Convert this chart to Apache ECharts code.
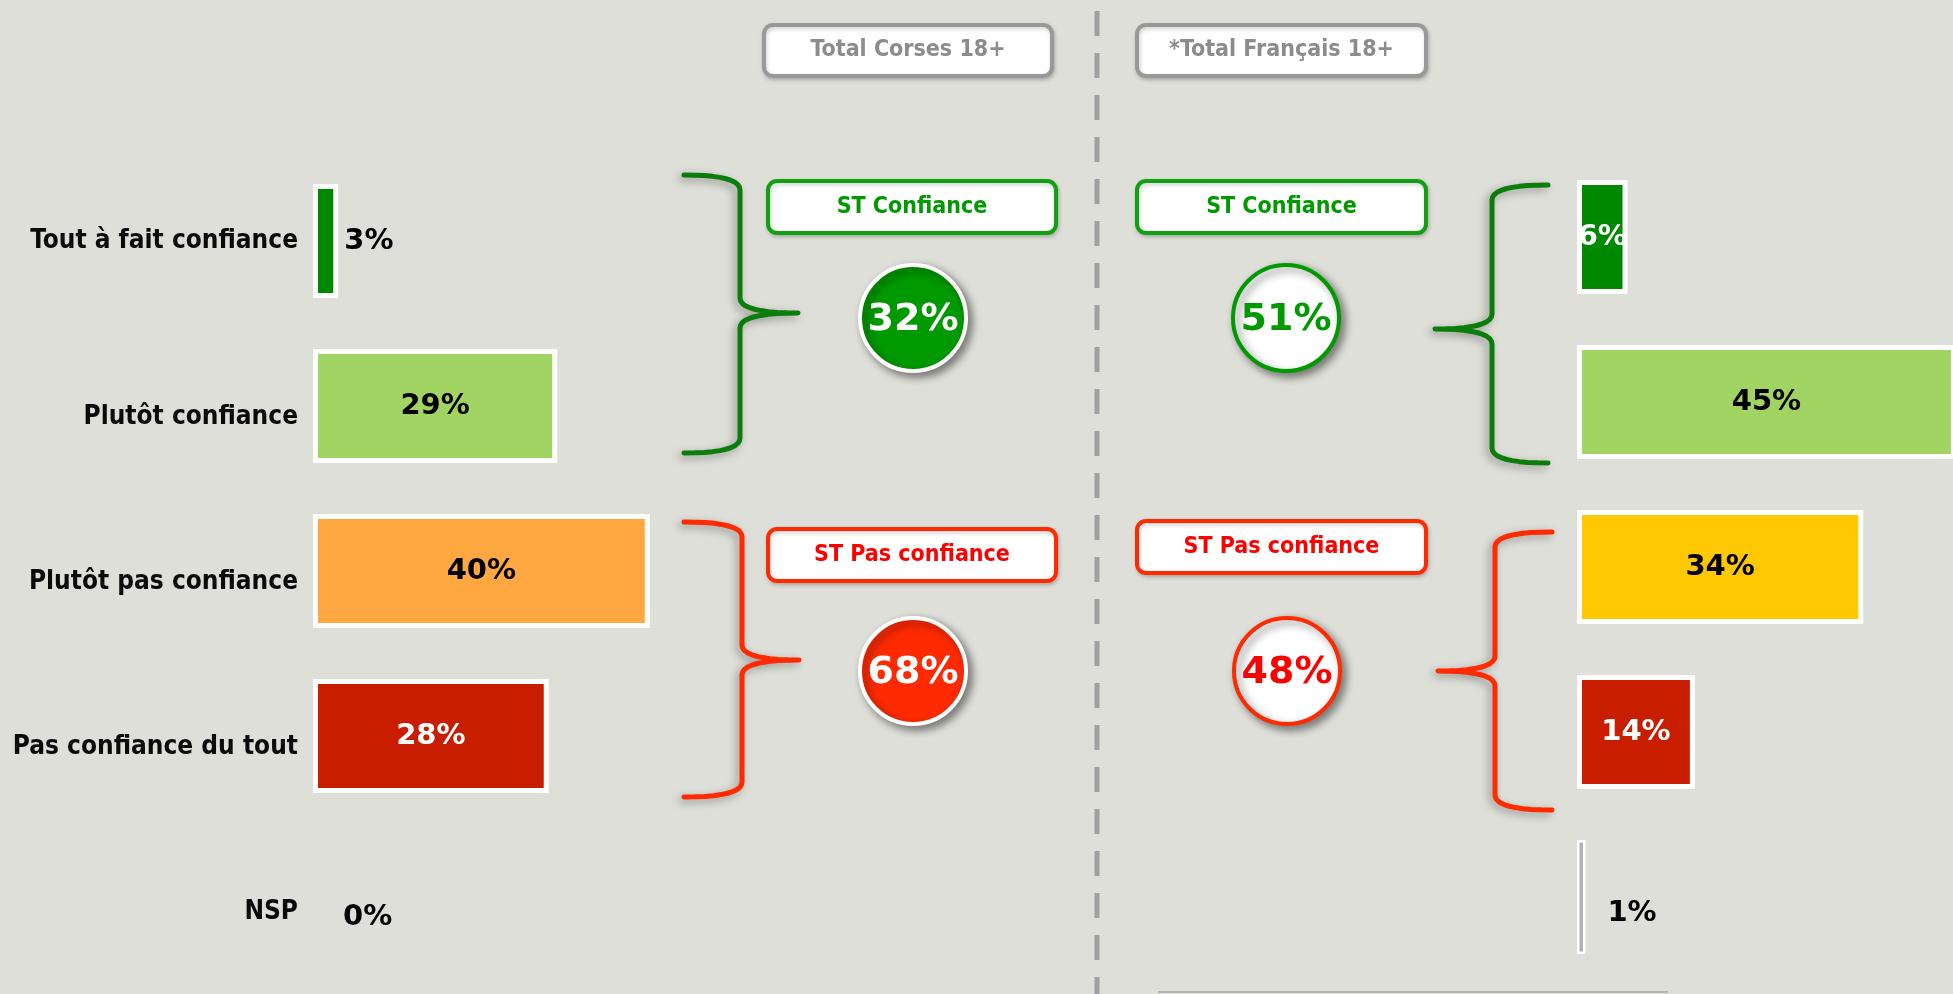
<!DOCTYPE html>
<html>
<head>
<meta charset="utf-8">
<script src="https://cdn.jsdelivr.net/npm/echarts@6/dist/echarts.min.js"></script>
<style>
  html, body { margin: 0; padding: 0; background: #dfdfd9; }
  #chart { width: 1953px; height: 994px; }
</style>
</head>
<body>
<div id="chart"></div>
<script>
const categories = ['Tout à fait confiance', 'Plutôt confiance', 'Plutôt pas confiance', 'Pas confiance du tout', 'NSP'];
const corsesValues = [3, 29, 40, 28, 0];
const francaisValues = [6, 45, 34, 14, 1];
const panelTitles = ['Total Corses 18+', '*Total Français 18+'];
const subtotalTitles = ['ST Confiance', 'ST Pas confiance'];

const leftColors = ['#008800', '#a2d464', '#ffa842', '#c91d00', 'transparent'];
const rightColors = ['#008800', '#a2d464', '#ffc800', '#c91d00', '#b0b0b0'];
const leftLabelColors = ['#000', '#000', '#000', '#fff', '#000'];
const rightLabelColors = ['#fff', '#000', '#000', '#fff', '#000'];

const condFont = "'DejaVu Sans Condensed', 'DejaVu Sans', sans-serif";
const valFont = "'DejaVu Sans', sans-serif";
const GREEN = '#009900';
const RED = '#ff2a00';

// subtotals come from the data
const sum = (arr, a, b) => arr[a] + arr[b];
const stCorses = [sum(corsesValues, 0, 1), sum(corsesValues, 2, 3)];
const stFrancais = [sum(francaisValues, 0, 1), sum(francaisValues, 2, 3)];

const buildBars = (values, colors, labelColors, nspDistance) => values.map((v, i) => {
  const item = {
    value: v,
    itemStyle: { color: colors[i] },
    label: { color: labelColors[i] }
  };
  if (v < 5) {
    item.label.position = 'right';
    item.label.distance = i === 4 ? nspDistance : 6;
    if (i === 4) item.label.offset = [0, 16];
  }
  if (colors[i] === 'transparent') item.itemStyle.borderWidth = 0;
  else if (v < 2) item.itemStyle.borderWidth = 2.5;
  return item;
});

// sample a quadratic curve
const quad = (p0, c, p1, n) => {
  const pts = [];
  for (let k = 1; k <= n; k++) {
    const t = k / n;
    const u = 1 - t;
    pts.push([u * u * p0[0] + 2 * u * t * c[0] + t * t * p1[0], u * u * p0[1] + 2 * u * t * c[1] + t * t * p1[1]]);
  }
  return pts;
};

const bracePoints = (xa, xm, xt, y0, yt, y1) => {
  const r = 15;
  let pts = [[xa, y0]];
  pts = pts.concat(quad([xa, y0], [xm, y0], [xm, y0 + r], 10));
  pts.push([xm, yt - r]);
  pts = pts.concat(quad([xm, yt - r], [xm, yt], [xt, yt], 10));
  pts = pts.concat(quad([xt, yt], [xm, yt], [xm, yt + r], 10));
  pts.push([xm, y1 - r]);
  pts = pts.concat(quad([xm, y1 - r], [xm, y1], [xa, y1], 10));
  return pts;
};

const brace = (pts, color) => ({
  type: 'polyline',
  shape: { points: pts },
  style: {
    stroke: color, fill: null, lineWidth: 5, lineJoin: 'round', lineCap: 'round',
    shadowBlur: 8, shadowColor: 'rgba(0,0,0,0.35)', shadowOffsetX: -3, shadowOffsetY: 3
  }
});

const box = (x, y, w, h, stroke, text, textColor) => ([
  {
    type: 'rect',
    shape: { x: x, y: y, width: w, height: h, r: 9 },
    style: { fill: '#fff', stroke: stroke, lineWidth: 4, shadowBlur: 4, shadowColor: 'rgba(0,0,0,0.2)', shadowOffsetX: 1, shadowOffsetY: 2 }
  },
  {
    type: 'text',
    x: x + w / 2, y: y + h / 2,
    style: {
      text: text, fill: textColor, font: 'bold 23px ' + condFont,
      align: 'center', verticalAlign: 'middle', textAlign: 'center', textVerticalAlign: 'middle'
    }
  }
]);

const bubble = (cx, cy, fill, stroke, text, textColor) => ([
  {
    type: 'circle',
    shape: { cx: cx, cy: cy, r: 53 },
    style: { fill: fill, stroke: stroke, lineWidth: 4, shadowBlur: 8, shadowColor: 'rgba(0,0,0,0.45)', shadowOffsetX: 4, shadowOffsetY: 4 }
  },
  {
    type: 'text',
    x: cx, y: cy + 2,
    style: {
      text: text, fill: textColor, font: 'bold 38px ' + valFont,
      align: 'center', verticalAlign: 'middle', textAlign: 'center', textVerticalAlign: 'middle'
    }
  }
]);

const graphics = [
  {
    type: 'line',
    shape: { x1: 1097, y1: 11, x2: 1097, y2: 994 },
    style: { stroke: '#a0a0a0', lineWidth: 5, lineDash: [25, 17] }
  },
  {
    type: 'line',
    shape: { x1: 1158, y1: 992, x2: 1668, y2: 992 },
    style: { stroke: '#b4b4b4', lineWidth: 2 }
  },
  brace(bracePoints(684, 740, 798, 175, 313, 453), '#0a7d0a'),
  brace(bracePoints(684, 742, 799, 522, 660, 797), RED),
  brace(bracePoints(1548, 1492, 1435, 185, 329, 463), '#0a7d0a'),
  brace(bracePoints(1552, 1495, 1438, 532, 671, 810), RED)
]
  .concat(box(764, 25, 288, 51, '#999999', panelTitles[0], '#8c8c8c'))
  .concat(box(1137, 25, 289, 51, '#999999', panelTitles[1], '#8c8c8c'))
  .concat(box(768, 181, 288, 52, '#11a011', subtotalTitles[0], GREEN))
  .concat(box(1137, 181, 289, 52, '#11a011', subtotalTitles[0], GREEN))
  .concat(box(768, 529, 288, 52, RED, subtotalTitles[1], '#ff0000'))
  .concat(box(1137, 521, 289, 52, RED, subtotalTitles[1], '#ff0000'))
  .concat(bubble(913, 318, GREEN, '#ffffff', stCorses[0] + '%', '#ffffff'))
  .concat(bubble(1286, 318, '#ffffff', GREEN, stFrancais[0] + '%', GREEN))
  .concat(bubble(913, 671, RED, '#ffffff', stCorses[1] + '%', '#ffffff'))
  .concat(bubble(1287, 671, '#ffffff', RED, stFrancais[1] + '%', '#ff0000'));

const barLabel = {
  show: true,
  position: 'inside',
  formatter: '{c}%',
  fontFamily: valFont,
  fontWeight: 'bold',
  fontSize: 29
};

const chart = echarts.init(document.getElementById('chart'));
const option = {
  backgroundColor: '#dfdfd9',
  animation: false,
  grid: [
    { left: 313, top: 158.5, width: 421, height: 825, outerBoundsMode: 'none' },
    { left: 1577, top: 154.5, width: 421, height: 825, outerBoundsMode: 'none' }
  ],
  xAxis: [
    { type: 'value', gridIndex: 0, min: 0, max: 50, show: false },
    { type: 'value', gridIndex: 1, min: 0, max: 50, show: false }
  ],
  yAxis: [
    {
      type: 'category', gridIndex: 0, data: categories, inverse: true,
      axisLine: { show: false }, axisTick: { show: false }, splitLine: { show: false },
      axisLabel: {
        margin: 15,
        color: '#0a0a0a',
        formatter: (v, i) => (i === 0 ? '{a|' + v + '}' : '{b|' + v + '}'),
        rich: {
          a: { fontFamily: condFont, fontWeight: 'bold', fontSize: 26, color: '#0a0a0a' },
          b: { fontFamily: condFont, fontWeight: 'bold', fontSize: 26, color: '#0a0a0a', padding: [22, 0, 0, 0] }
        }
      }
    },
    {
      type: 'category', gridIndex: 1, data: categories, inverse: true,
      axisLine: { show: false }, axisTick: { show: false }, axisLabel: { show: false }, splitLine: { show: false }
    }
  ],
  series: [
    {
      type: 'bar', xAxisIndex: 0, yAxisIndex: 0, barWidth: 114,
      itemStyle: { borderColor: '#ffffff', borderWidth: 5 },
      label: barLabel,
      data: buildBars(corsesValues, leftColors, leftLabelColors, 30)
    },
    {
      type: 'bar', xAxisIndex: 1, yAxisIndex: 1, barWidth: 114,
      itemStyle: { borderColor: '#ffffff', borderWidth: 5 },
      label: barLabel,
      data: buildBars(francaisValues, rightColors, rightLabelColors, 22)
    }
  ],
  graphic: graphics
};
chart.setOption(option);
</script>
</body>
</html>
